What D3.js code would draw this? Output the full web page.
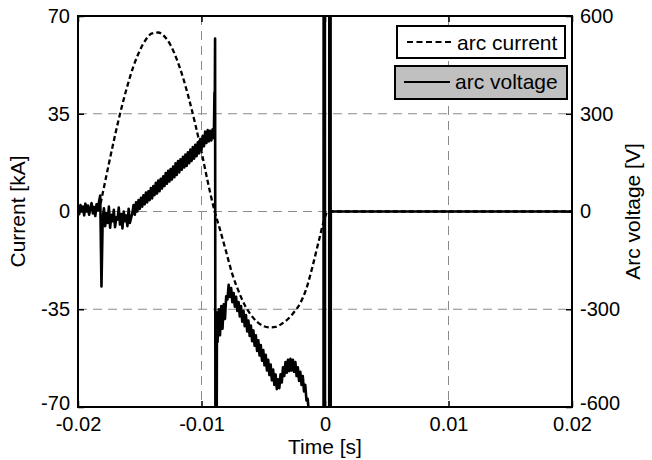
<!DOCTYPE html>
<html>
<head>
<meta charset="utf-8">
<script src="https://cdn.jsdelivr.net/npm/d3@7"></script>
<style>
  body { margin: 0; background: #fff; }
  svg { display: block; font-family: "Liberation Sans", Arial, sans-serif; }
</style>
</head>
<body>
<div id="chart"></div>
<script>
// time ticks in seconds, left axis kA, right axis V
let timeTicks = [-0.02, -0.01, 0, 0.01, 0.02];
let currentTicks = [-70, -35, 0, 35, 70];
let voltTicks = [-600, -300, 0, 300, 600];

// arc current, times in ms
let currentT = [-18.3, -18.0, -17.5, -17.0, -16.5, -16.0, -15.5, -15.0, -14.5, -14.0,
  -13.5, -13.0, -12.5, -12.0, -11.5, -11.0, -10.5, -10.0, -9.5, -8.93,
  -8.5, -8.0, -7.5, -7.0, -6.5, -6.0, -5.5, -5.0, -4.5, -4.0,
  -3.5, -3.0, -2.5, -2.0, -1.5, -1.0, -0.5, 0.0, 0.2, 20.0];
let currentKA = [0, 6.5, 17.1, 27.3, 36.7, 45.0, 52.1, 57.6, 61.6, 63.8,
  64.1, 62.7, 59.5, 54.5, 48.0, 40.1, 31.2, 21.4, 10.8, 0,
  -6.5, -14.5, -22.5, -28.5, -33.5, -37.0, -39.5, -41.0, -41.5, -41.3,
  -40.2, -38.5, -36.0, -32.8, -27.5, -19.5, -10.5, -2.0, 0, 0];

// arc voltage, sampled every 0.1 ms
let sampleStep = 0.1;
let voltPreStart = -20.0; // -20.0 .. -9.0 ms
let voltPre = [12, -8, 20, 2, 15, -12, 24, 0, 18, -10, 10, 26, -6, 14, -14, 22, 4, 30,
  49, -230,
  -20, 10, -45, -5, -35, 15, -50, -10, -30, 5, -48, -18, -25, 12, -40, -8, -52, 0, -30, -12, -45, 8, -35, -20, -5,
  20, -10, 28, 0, 35, 8, 42, 15, 50, 22, 58, 28, 62, 35, 72, 40, 78, 50, 88, 55,
  95, 62, 100, 70, 108, 78, 118, 85, 125, 92, 130, 98, 138, 105, 148, 112, 155, 120, 160, 128,
  168, 135, 175, 140, 182, 148, 190, 155, 198, 162, 205, 170, 212, 178, 222, 190, 232, 200, 245, 210,
  250, 215, 248, 218, 252, 225];

// arc ignition / extinction events (ms, V)
let voltArcT = [-8.95, -8.93, -8.9, -8.87, -8.78, -8.75];
let voltArcV = [365, 280, 531, -900, -900, -310];

let voltPostStart = -8.7; // -8.7 .. -1.3 ms
let voltPost = [-400, -300, -380, -290, -360, -285, -330, -260, -270,
  -225, -262, -235, -278, -250, -292, -262, -305, -278, -322,
  -290, -338, -305, -352, -318, -368, -335, -382, -350, -398,
  -365, -412, -380, -428, -395, -442, -410, -458, -425, -472,
  -440, -488, -455, -502, -470, -518, -485, -532, -500, -545, -515,
  -542, -500, -525, -478, -505, -462, -495, -455, -490, -452,
  -488, -455, -492, -462, -505, -478, -520, -492, -532, -505,
  -552, -532, -580, -575, -620];

let voltEndT = [-1.2, -0.12, -0.11, -0.01, 0.0, 0.34, 0.35, 0.45, 0.46, 0.47, 20.0];
let voltEndV = [-900, -900, 900, 900, -900, -900, 900, 900, -900, 0, 0];

let legendLabels = ["arc current", "arc voltage"];

let svg = d3.select("#chart").append("svg")
  .attr("width", 652)
  .attr("height", 460)
  .style("background", "#fff");

let box = { left: 78, right: 572, top: 16, bottom: 407 };

let x = d3.scaleLinear().domain([-0.02, 0.02]).range([box.left, box.right]);
let yL = d3.scaleLinear().domain([-70, 70]).range([box.bottom, box.top]);
let yR = d3.scaleLinear().domain([-600, 600]).range([box.bottom, box.top]);

// build point lists
let currentData = currentT.map((t, i) => ({ t: t, v: currentKA[i] }));
let voltData = [];
voltPre.forEach((v, i) => voltData.push({ t: voltPreStart + i * sampleStep, v: v }));
voltArcT.forEach((t, i) => voltData.push({ t: t, v: voltArcV[i] }));
voltPost.forEach((v, i) => voltData.push({ t: voltPostStart + i * sampleStep, v: v }));
voltEndT.forEach((t, i) => voltData.push({ t: t, v: voltEndV[i] }));

svg.append("clipPath").attr("id", "plot-clip")
  .append("rect")
  .attr("x", box.left).attr("y", box.top)
  .attr("width", box.right - box.left).attr("height", box.bottom - box.top);

// grid
let grid = svg.append("g")
  .attr("stroke", "#8a8a8a")
  .attr("stroke-width", 1)
  .attr("stroke-dasharray", "9,6");
grid.selectAll(".gx").data(timeTicks.slice(1, -1)).join("line")
  .attr("x1", d => x(d)).attr("x2", d => x(d))
  .attr("y1", box.top).attr("y2", box.bottom);
grid.selectAll(".gy").data(currentTicks.slice(1, -1)).join("line")
  .attr("y1", d => yL(d)).attr("y2", d => yL(d))
  .attr("x1", box.left).attr("x2", box.right);

let lines = svg.append("g").attr("clip-path", "url(#plot-clip)");

lines.append("path")
  .datum(currentData)
  .attr("fill", "none")
  .attr("stroke", "#000")
  .attr("stroke-width", 2.3)
  .attr("stroke-dasharray", "5,3")
  .attr("d", d3.line()
    .x(d => x(d.t / 1000))
    .y(d => yL(d.v))
    .curve(d3.curveMonotoneX));

lines.append("path")
  .datum(voltData)
  .attr("fill", "none")
  .attr("stroke", "#000")
  .attr("stroke-width", 2.6)
  .attr("stroke-linejoin", "round")
  .attr("d", d3.line()
    .x(d => x(d.t / 1000))
    .y(d => yR(d.v)));

// axes, ticks pointing inward
let styleAxis = (g) => {
  g.attr("font-size", 20).attr("font-family", null);
  g.select(".domain").remove();
  g.selectAll(".tick line").attr("stroke", "#000").attr("stroke-width", 1.5);
  g.selectAll(".tick text").attr("fill", "#000");
};

svg.append("g")
  .attr("transform", `translate(0,${box.bottom})`)
  .call(d3.axisBottom(x).tickValues(timeTicks).tickFormat(d => String(d)).tickSize(-6).tickPadding(10))
  .call(styleAxis);

svg.append("g")
  .attr("transform", `translate(0,${box.top})`)
  .call(d3.axisTop(x).tickValues(timeTicks).tickFormat("").tickSize(-6))
  .call(styleAxis);

let leftAxis = svg.append("g")
  .attr("transform", `translate(${box.left},0)`)
  .call(d3.axisLeft(yL).tickValues(currentTicks).tickFormat(d => String(d)).tickSize(-6).tickPadding(8))
  .call(styleAxis);
// lift the lowest label a little so it clears "-0.02"
leftAxis.selectAll(".tick text").filter(d => d === -70).attr("dy", "0.12em");

let rightAxis = svg.append("g")
  .attr("transform", `translate(${box.right},0)`)
  .call(d3.axisRight(yR).tickValues(voltTicks).tickFormat(d => String(d)).tickSize(-6).tickPadding(8))
  .call(styleAxis);
rightAxis.selectAll(".tick text").filter(d => d === -600).attr("dy", "0.12em");

svg.append("rect")
  .attr("x", box.left).attr("y", box.top)
  .attr("width", box.right - box.left).attr("height", box.bottom - box.top)
  .attr("fill", "none")
  .attr("stroke", "#000")
  .attr("stroke-width", 2);

// axis titles
svg.append("text")
  .attr("x", (box.left + box.right) / 2).attr("y", 454)
  .attr("text-anchor", "middle").attr("font-size", 21)
  .text("Time [s]");

svg.append("text")
  .attr("transform", `translate(25,${(box.top + box.bottom) / 2}) rotate(-90)`)
  .attr("text-anchor", "middle").attr("font-size", 21)
  .text("Current [kA]");

svg.append("text")
  .attr("transform", `translate(640,${(box.top + box.bottom) / 2}) rotate(-90)`)
  .attr("text-anchor", "middle").attr("font-size", 21)
  .text("Arc voltage [V]");

// legend, two separate boxes like plotyy
let legend = svg.append("g");
let lg1 = legend.append("g");
lg1.append("rect")
  .attr("x", 397).attr("y", 26).attr("width", 168).attr("height", 32)
  .attr("fill", "#fff").attr("stroke", "#000").attr("stroke-width", 2);
lg1.append("line")
  .attr("x1", 407).attr("x2", 452).attr("y1", 42).attr("y2", 42)
  .attr("stroke", "#000").attr("stroke-width", 2).attr("stroke-dasharray", "6,3.5");
lg1.append("text")
  .attr("x", 457).attr("y", 50).attr("font-size", 21)
  .text(legendLabels[0]);

let lg2 = legend.append("g");
lg2.append("rect")
  .attr("x", 395).attr("y", 66).attr("width", 172).attr("height", 33)
  .attr("fill", "#c0c0c0").attr("stroke", "#000").attr("stroke-width", 2);
lg2.append("line")
  .attr("x1", 404).attr("x2", 450).attr("y1", 82).attr("y2", 82)
  .attr("stroke", "#000").attr("stroke-width", 2);
lg2.append("text")
  .attr("x", 455).attr("y", 89).attr("font-size", 21)
  .text(legendLabels[1]);
</script>
</body>
</html>
